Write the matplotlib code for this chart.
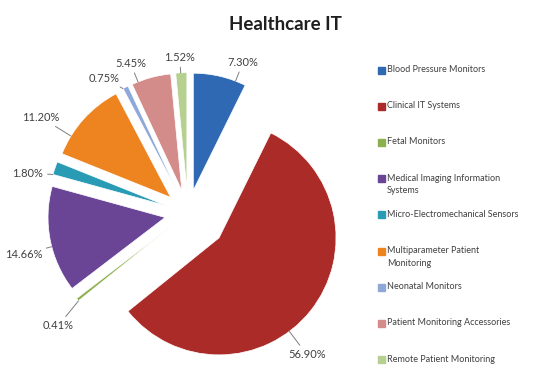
import numpy as np
import matplotlib
matplotlib.use("Agg")
import matplotlib.pyplot as plt
from matplotlib.patches import Rectangle

plt.rcParams['font.family'] = ['Lato', 'DejaVu Sans']

# data
categories = ['Blood Pressure Monitors', 'Clinical IT Systems', 'Fetal Monitors',
              'Medical Imaging Information\nSystems', 'Micro-Electromechanical Sensors',
              'Multiparameter Patient\nMonitoring', 'Neonatal Monitors',
              'Patient Monitoring Accessories', 'Remote Patient Monitoring']
shares = [7.30, 56.90, 0.41, 14.66, 1.80, 11.20, 0.75, 5.45, 1.52]
pct_labels = ['7.30%', '56.90%', '0.41%', '14.66%', '1.80%', '11.20%',
              '0.75%', '5.45%', '1.52%']

# styling / layout
colors = ['#2F69B3', '#AB2B29', '#8DB04F', '#6A4596', '#2A9BB5', '#EE8420',
          '#8EA9D9', '#D48C8A', '#B5D08F']
explode = [0.2, 0.34, 0.2, 0.2, 0.2, 0.2, 0.2, 0.2, 0.2]
# label text positions (radius, angle in degrees) around the pie centre
label_pos = [(1.37, 70), (1.58, -50), (1.47, -139), (1.45, -166), (1.41, 166),
             (1.50, 147), (1.36, 122), (1.37, 111), (1.33, 93)]

W, H, R = 552, 367, 117.0   # figure px, pie radius px
cx, cy = 188, 213            # pie centre px (from top-left)

fig = plt.figure(figsize=(W / 100, H / 100), dpi=100)
ax = fig.add_axes([0, 0, 1, 1])
wedges, _ = ax.pie(shares, colors=colors, explode=explode, startangle=90,
                   counterclock=False, radius=1,
                   wedgeprops=dict(linewidth=0.5, edgecolor='white'))
ax.set_xlim(-cx / R, (W - cx) / R)
ax.set_ylim(-(H - cy) / R, cy / R)
ax.set_aspect('auto')
ax.axis('off')

for w, txt, (r, a) in zip(wedges, pct_labels, label_pos):
    tx, ty = r * np.cos(np.radians(a)), r * np.sin(np.radians(a))
    ox, oy = w.center
    t1, t2 = w.theta1, w.theta2
    ang = np.degrees(np.arctan2(ty - oy, tx - ox)) % 360
    lo, hi = t1 % 360, t2 % 360
    # clip the leader anchor to the wedge's arc
    span = (t2 - t1) % 360
    if (ang - lo) % 360 > span:
        ang = lo if min((ang - lo) % 360, (lo - ang) % 360) < \
            min((ang - hi) % 360, (hi - ang) % 360) else hi
    px, py = ox + np.cos(np.radians(ang)), oy + np.sin(np.radians(ang))
    ax.annotate(txt, xy=(px, py), xytext=(tx, ty), fontsize=8, color='#404040',
                ha='center', va='center',
                arrowprops=dict(arrowstyle='-', color='#7F7F7F', lw=0.7,
                                shrinkA=1, shrinkB=0))

fig.text(285 / W, 1 - 24 / H, 'Healthcare IT', ha='center', va='center',
         fontsize=13.5, fontweight='bold', color='#1F1F1F')

# legend, drawn as Excel lays it out (evenly spaced, square on first line)
for i, (name, c) in enumerate(zip(categories, colors)):
    y = 70 + i * 36.2
    fig.patches.append(Rectangle((378 / W, 1 - (y + 3.5) / H), 7 / W, 7 / H,
                                 transform=fig.transFigure, color=c))
    fig.text(387 / W, 1 - (y - 5) / H, name, ha='left', va='top',
             fontsize=6.5, color='#404040', linespacing=1.5)

fig.savefig('out.png', dpi=100)
